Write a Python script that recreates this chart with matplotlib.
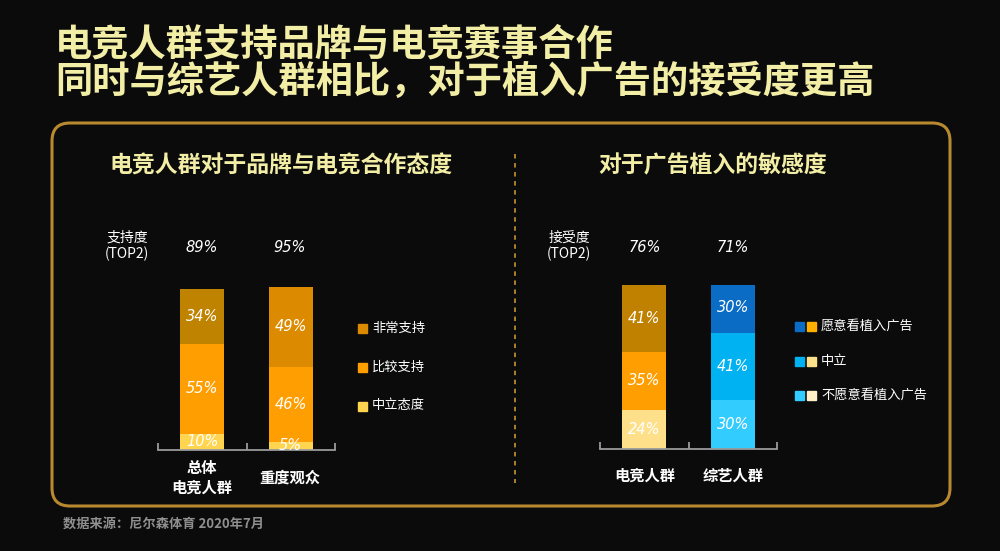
import matplotlib
matplotlib.use("Agg")
import matplotlib.pyplot as plt
from matplotlib.patches import FancyBboxPatch, Rectangle
from matplotlib.lines import Line2D

plt.rcParams['font.family'] = ['Noto Sans CJK SC', 'DejaVu Sans']

# 数据
groups1 = ['总体\n电竞人群', '重度观众']
top2_1 = ['89%', '95%']
neutral1 = [10, 5]
fairly1 = [55, 46]
very1 = [34, 49]
legend1 = ['非常支持', '比较支持', '中立态度']

groups2 = ['电竞人群', '综艺人群']
top2_2 = ['76%', '71%']
unwilling2 = [24, 30]
middle2 = [35, 41]
willing2 = [41, 30]
legend2 = ['愿意看植入广告', '中立', '不愿意看植入广告']

BG = '#0b0b0b'
TITLE_C = '#f3eea6'
GOLD = '#b8892f'
W, H = 1000, 551

fig = plt.figure(figsize=(10, 5.51), dpi=100, facecolor=BG)


def fx(x):
    return x / W


def fy(y):
    return 1 - y / H


def ftext(x, y, s, **kw):
    fig.text(fx(x), fy(y), s, **kw)


# 标题
ftext(55, 45, '电竞人群支持品牌与电竞赛事合作', color=TITLE_C, fontsize=26.8,
      fontweight='bold', va='center', ha='left')
ftext(55, 82, '同时与综艺人群相比，对于植入广告的接受度更高', color=TITLE_C, fontsize=26.8,
      fontweight='bold', va='center', ha='left')

# 边框
frame = FancyBboxPatch((fx(52), fy(506)), fx(950) - fx(52), fy(123) - fy(506),
                       boxstyle='round,pad=0,rounding_size=0.018',
                       transform=fig.transFigure, fill=False, edgecolor=GOLD,
                       linewidth=2.2, mutation_aspect=W / H)
fig.patches.append(frame)
fig.add_artist(Line2D([fx(515), fx(515)], [fy(154), fy(483)], color=GOLD,
                      linestyle=(0, (2.5, 2.5)), linewidth=1.3))

ftext(281, 166, '电竞人群对于品牌与电竞合作态度', color=TITLE_C, fontsize=16.5,
      fontweight='semibold', ha='center', va='center')
ftext(713, 166, '对于广告植入的敏感度', color=TITLE_C, fontsize=16.5,
      fontweight='semibold', ha='center', va='center')

ftext(63, 524, '数据来源：尼尔森体育 2020年7月', color='#8f8f8f', fontsize=9.5,
      fontweight='bold', style='italic', ha='left', va='center')


def panel(left, right, bottom, top, stacks, colors):
    ax = fig.add_axes([fx(left), fy(bottom), fx(right) - fx(left), fy(top) - fy(bottom)])
    ax.set_facecolor('none')
    ax.set_xlim(-0.5, 1.5)
    ax.set_ylim(0, 100)
    x = [0, 1]
    base = [0, 0]
    for vals, cols in zip(stacks, colors):
        ax.bar(x, vals, width=0.5, bottom=base, color=cols, edgecolor='none')
        for i in range(2):
            ax.text(x[i], base[i] + vals[i] / 2, f'{vals[i]}%', ha='center', va='center',
                    color='white', fontsize=10.5, style='italic', family=['DejaVu Sans'],
                    clip_on=False)
        base = [b + v for b, v in zip(base, vals)]
    for s in ['top', 'right', 'left']:
        ax.spines[s].set_visible(False)
    ax.spines['bottom'].set_color('#9a9a9a')
    ax.spines['bottom'].set_linewidth(1.3)
    ax.set_yticks([])
    ax.set_xticks([-0.5, 0.5, 1.5])
    ax.tick_params(axis='x', direction='in', length=5, color='#9a9a9a', width=1.3,
                   labelbottom=False)
    return ax


# 左图
c_very = ['#c08300', '#dc8b00']
c_fair = ['#ff9e00', '#ff9e00']
c_neu = ['#ffd54f', '#ffd54f']
panel(158, 335, 450, 287, [neutral1, fairly1, very1], [c_neu, c_fair, c_very])
ftext(127, 246, '支持度\n(TOP2)', color='white', fontsize=10, ha='center', va='center',
      style='italic', linespacing=1.2)
for xc, t in zip([202, 290], top2_1):
    ftext(xc, 247, t, color='white', fontsize=10.5, style='italic', ha='center',
          va='center', family=['DejaVu Sans'])
ftext(202, 478, groups1[0], color='white', fontsize=11, fontweight='semibold',
      ha='center', va='center', linespacing=1.25)
ftext(290, 478, groups1[1], color='white', fontsize=11, fontweight='semibold',
      ha='center', va='center')
leg1_cols = ['#dc8b00', '#ff9e00', '#ffd54f']
for yy, lab, c in zip([328, 367, 406], legend1, leg1_cols):
    fig.patches.append(Rectangle((fx(358), fy(yy + 4.5)), fx(9), fy(0) - fy(9),
                                 transform=fig.transFigure, color=c))
    ftext(372, yy, lab, color='white', fontsize=9.5, ha='left', va='center')

# 右图
c_will = ['#c08000', '#0a6cc4']
c_mid = ['#ff9e00', '#00b2f2']
c_unw = ['#ffe08a', '#33ccff']
panel(600, 777, 449, 285, [unwilling2, middle2, willing2], [c_unw, c_mid, c_will])
ftext(569, 246, '接受度\n(TOP2)', color='white', fontsize=10, ha='center', va='center',
      style='italic', linespacing=1.2)
for xc, t in zip([645, 733], top2_2):
    ftext(xc, 247, t, color='white', fontsize=10.5, style='italic', ha='center',
          va='center', family=['DejaVu Sans'])
for xc, g in zip([645, 733], groups2):
    ftext(xc, 476, g, color='white', fontsize=11, fontweight='semibold',
          ha='center', va='center')
leg2_blue = ['#0a6cc4', '#00b2f2', '#33ccff']
leg2_orange = ['#ffb000', '#ffe08a', '#fff0c8']
for yy, lab, cb, co in zip([326, 361, 395], legend2, leg2_blue, leg2_orange):
    fig.patches.append(Rectangle((fx(795), fy(yy + 4.5)), fx(9), fy(0) - fy(9),
                                 transform=fig.transFigure, color=cb))
    fig.patches.append(Rectangle((fx(807), fy(yy + 4.5)), fx(9), fy(0) - fy(9),
                                 transform=fig.transFigure, color=co))
    ftext(821, yy, lab, color='white', fontsize=9.5, ha='left', va='center')

fig.savefig('out.png', dpi=100, facecolor=BG)
